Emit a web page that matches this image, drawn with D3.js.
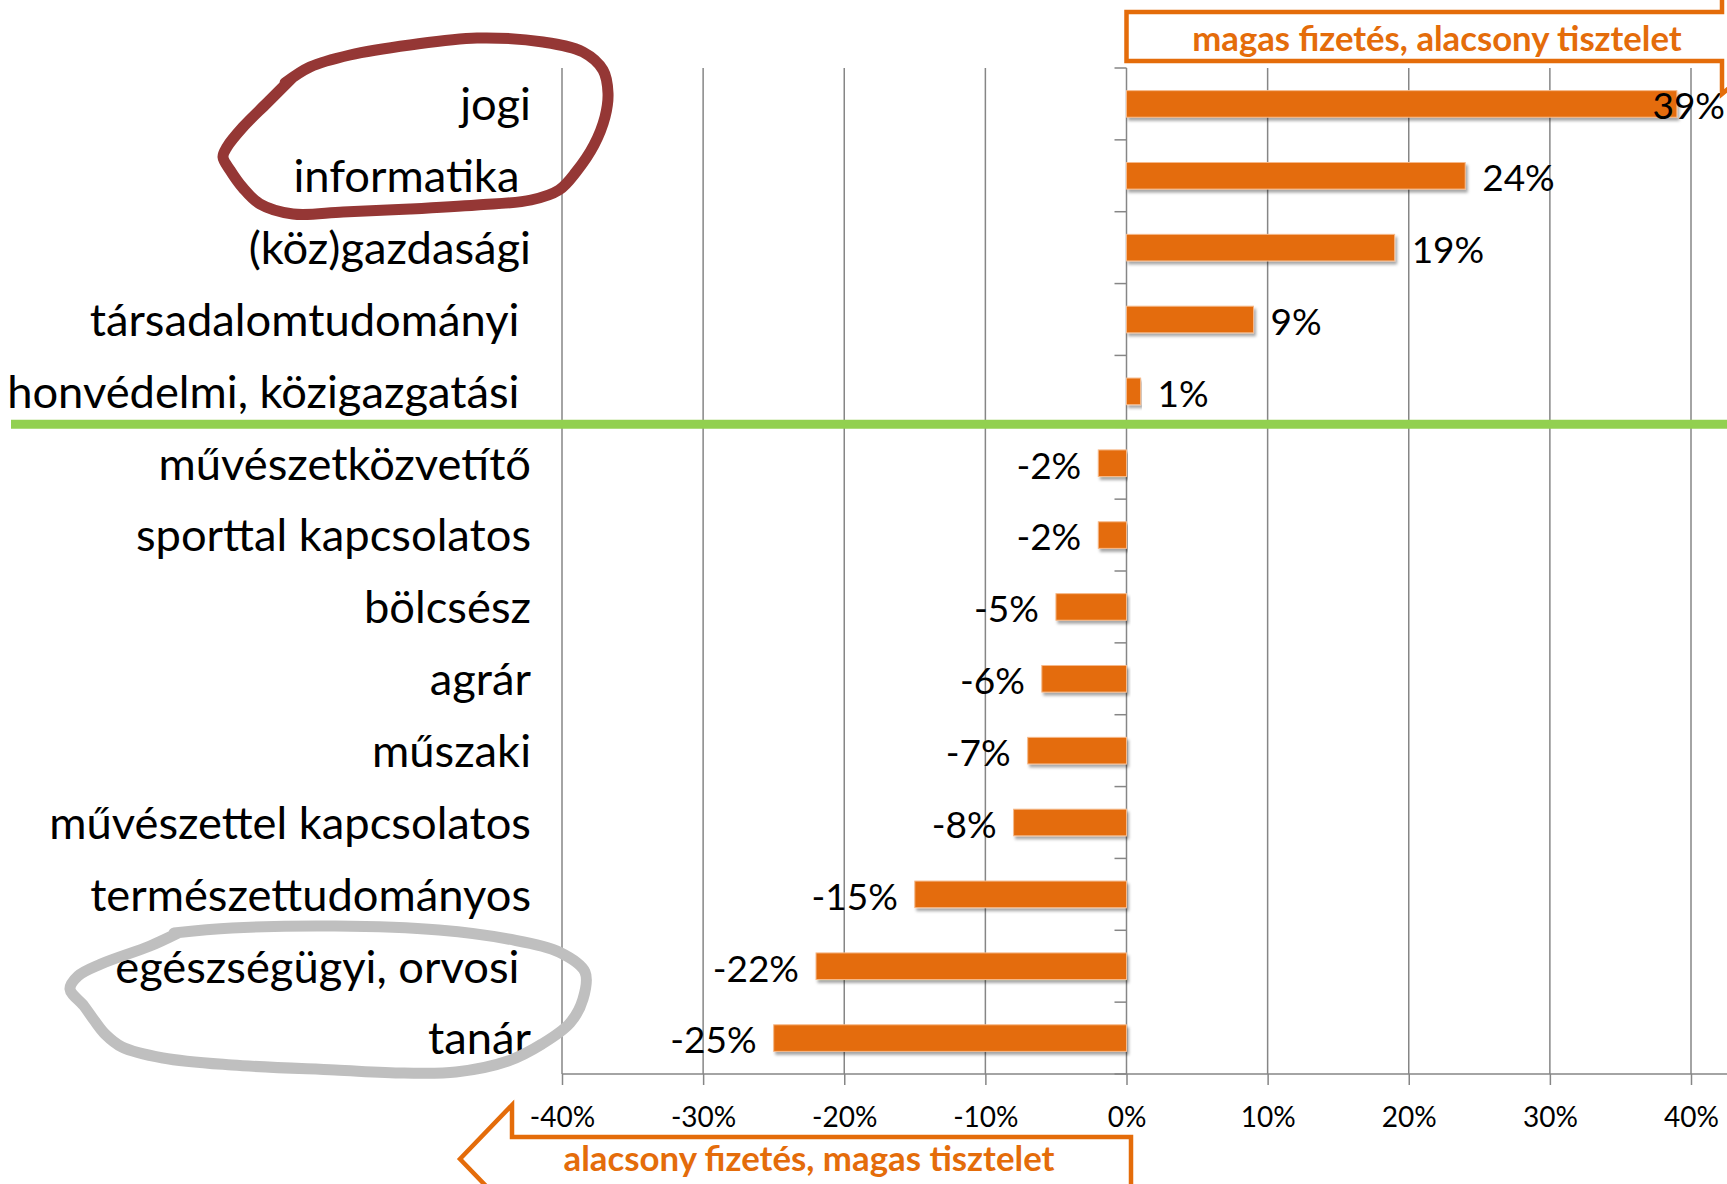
<!DOCTYPE html>
<html lang="hu">
<head>
<meta charset="utf-8">
<script src="https://cdn.jsdelivr.net/npm/d3@7"></script>
<style>
  html, body { margin: 0; padding: 0; background: #fff; }
  svg { display: block; font-family: Lato, "Open Sans", sans-serif; }
  text { white-space: pre; }
</style>
</head>
<body>
<svg id="chart" width="1727" height="1184"></svg>
<script>
// Categories, top to bottom (trailing spaces are in the original labels)
const categories = [
    'jogi', 'informatika ', '(köz)gazdasági', 'társadalomtudományi ',
    'honvédelmi, közigazgatási ', 'művészetközvetítő', 'sporttal kapcsolatos',
    'bölcsész', 'agrár', 'műszaki', 'művészettel kapcsolatos',
    'természettudományos', 'egészségügyi, orvosi ', 'tanár'
];
// Difference (%) for each category
const values = [39, 24, 19, 9, 1, -2, -2, -5, -6, -7, -8, -15, -22, -25];
// x axis ticks (%)
const xTicks = [-40, -30, -20, -10, 0, 10, 20, 30, 40];

const topLabel = 'magas fizetés, alacsony tisztelet';
const bottomLabel = 'alacsony fizetés, magas tisztelet';

// hand drawn annotation loops (page pixels)
const redLoop = [[285,83],[310,67],[350,55],[410,45],[477,38],[543,42],[583,52],[603,70],[608,93],
    [605,117],[594,145],[576,172],[559,190],[531,200],[477,205],[410,209],[343,212],[293,214],
    [260,204],[243,188],[230,170],[223,157],[227,147],[243,127],[267,103],[292,78]];
const greyLoop = [[174,933],[232,928],[335,926],[439,930],[508,939],[559,952],[585,972],[583,999],
    [570,1023],[542,1044],[508,1061],[456,1072],[404,1073],[335,1070],[232,1065],[163,1058],
    [122,1047],[105,1034],[94,1020],[84,1006],[70,989],[78,976],[101,964],[150,946],[178,933]];

const width = 1727, height = 1184;
const orange = '#E46C0A';
const gridColor = '#868686';

const svg = d3.select('#chart');

const x = d3.scaleLinear().domain([-40, 40]).range([562, 1691]);
const y = d3.scaleBand().domain(categories).range([68, 1074]).padding(0);
const barH = y.bandwidth() * 0.37;

// shadow for bars
const defs = svg.append('defs');
defs.append('filter').attr('id', 'shadow')
    .attr('x', '-5%').attr('y', '-30%').attr('width', '110%').attr('height', '170%')
    .append('feDropShadow')
    .attr('dx', 2).attr('dy', 3).attr('stdDeviation', 1.6)
    .attr('flood-color', '#000').attr('flood-opacity', 0.35);

// Gridlines
svg.append('g')
    .selectAll('line')
    .data(xTicks)
    .enter().append('line')
    .attr('x1', d => x(d)).attr('x2', d => x(d))
    .attr('y1', y.range()[0]).attr('y2', y.range()[1])
    .attr('stroke', gridColor).attr('stroke-width', 1.5);

// Bottom axis
const xAxis = svg.append('g')
    .attr('transform', `translate(0,${y.range()[1]})`)
    .call(d3.axisBottom(x).tickValues(xTicks).tickSize(11).tickPadding(22).tickFormat(d => d + '%'));
xAxis.select('.domain').remove();
xAxis.selectAll('.tick line').attr('stroke', gridColor).attr('stroke-width', 1.5);
xAxis.selectAll('.tick text')
    .attr('font-family', 'Lato, sans-serif')
    .attr('font-size', 28).attr('fill', '#000');
xAxis.append('line')
    .attr('x1', x(-40)).attr('x2', width)
    .attr('stroke', gridColor).attr('stroke-width', 1.5);

// Category axis at zero
const catTicks = d3.range(categories.length + 1).map(i => y.range()[0] + i * y.step());
svg.append('g')
    .selectAll('line')
    .data(catTicks)
    .enter().append('line')
    .attr('x1', x(0) - 12).attr('x2', x(0))
    .attr('y1', d => d).attr('y2', d => d)
    .attr('stroke', gridColor).attr('stroke-width', 1.5);

// Category labels
svg.append('g')
    .selectAll('text')
    .data(categories)
    .enter().append('text')
    .attr('x', 531)
    .attr('y', d => y(d) + y.bandwidth() / 2)
    .attr('dy', '0.36em')
    .attr('text-anchor', 'end')
    .attr('font-size', 45.3)
    .attr('fill', '#000')
    .text(d => d);

// Green separator
svg.append('line')
    .attr('x1', 11).attr('x2', width)
    .attr('y1', y(categories[5]) - 3).attr('y2', y(categories[5]) - 3)
    .attr('stroke', '#92D050').attr('stroke-width', 9);

// Bars
svg.append('g')
    .selectAll('rect')
    .data(values)
    .enter().append('rect')
    .attr('x', d => x(Math.min(0, d)))
    .attr('y', (d, i) => y(categories[i]) + (y.bandwidth() - barH) / 2)
    .attr('width', d => Math.abs(x(d) - x(0)))
    .attr('height', barH)
    .attr('fill', orange)
    .attr('stroke', '#f6b98a').attr('stroke-width', 1)
    .attr('filter', 'url(#shadow)');

// Value labels
svg.append('g')
    .selectAll('text')
    .data(values)
    .enter().append('text')
    .attr('y', (d, i) => y(categories[i]) + y.bandwidth() / 2 + 2)
    .attr('dy', '0.36em')
    .attr('font-size', 37)
    .attr('fill', '#000')
    .text(d => d + '%')
    .each(function (d) {
        const t = d3.select(this);
        if (d >= 0) {
            t.attr('x', x(d) + 17).attr('text-anchor', 'start');
            const w = this.getComputedTextLength();
            if (x(d) + 17 + w > width - 2) t.attr('x', width - 2).attr('text-anchor', 'end');
        } else {
            t.attr('x', x(d) - 17).attr('text-anchor', 'end');
        }
    });

// Arrow boxes
const arrows = svg.append('g')
    .attr('fill', '#fff').attr('stroke', orange).attr('stroke-width', 4.5)
    .attr('stroke-linejoin', 'miter');

// top: pointing right, head goes off the page
arrows.append('path')
    .attr('d', d3.line()([[x(0), 12], [1722, 12], [1722, -20], [1790, 37], [1722, 94],
        [1722, 61], [x(0), 61]]) + 'Z');
// bottom: pointing left, body runs off the page
arrows.append('path')
    .attr('d', d3.line()([[1131, 1137], [512, 1137], [512, 1105], [460, 1159], [512, 1213],
        [512, 1195], [1131, 1195]]) + 'Z');

svg.append('text')
    .attr('x', 1437).attr('y', 51)
    .attr('text-anchor', 'middle')
    .attr('font-size', 34.7).attr('font-weight', 'bold')
    .attr('fill', orange)
    .text(topLabel);

svg.append('text')
    .attr('x', 809).attr('y', 1171)
    .attr('text-anchor', 'middle')
    .attr('font-size', 34.8).attr('font-weight', 'bold')
    .attr('fill', orange)
    .text(bottomLabel);

// Hand drawn loops
const loopLine = d3.line().curve(d3.curveCatmullRom.alpha(0.5));
svg.append('path')
    .attr('d', loopLine(redLoop))
    .attr('fill', 'none').attr('stroke', '#953735').attr('stroke-width', 11)
    .attr('stroke-linecap', 'round').attr('stroke-linejoin', 'round');
svg.append('path')
    .attr('d', loopLine(greyLoop))
    .attr('fill', 'none').attr('stroke', '#BFBFBF').attr('stroke-width', 11)
    .attr('stroke-linecap', 'round').attr('stroke-linejoin', 'round');
</script>
</body>
</html>
